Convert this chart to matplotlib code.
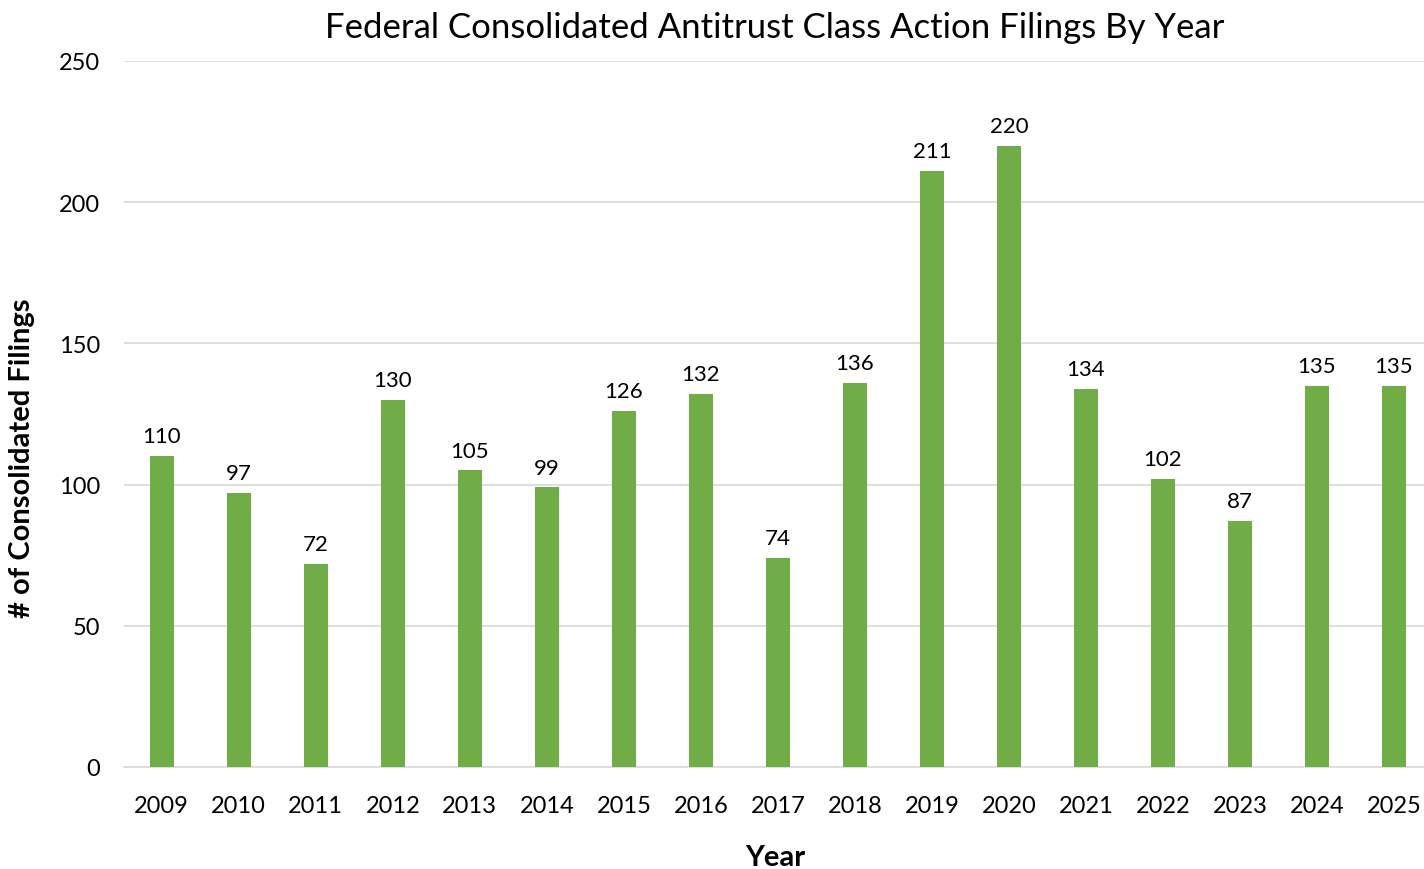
import matplotlib.pyplot as plt
import numpy as np

years = ['2009', '2010', '2011', '2012', '2013', '2014', '2015', '2016', '2017',
         '2018', '2019', '2020', '2021', '2022', '2023', '2024', '2025']
filings = [110, 97, 72, 130, 105, 99, 126, 132, 74, 136, 211, 220, 134, 102, 87, 135, 135]
y_ticks = [0, 50, 100, 150, 200, 250]

plt.rcParams['font.family'] = ['Lato', 'DejaVu Sans']

fig = plt.figure(figsize=(14.24, 8.70), dpi=100)
ax = fig.add_axes([124 / 1424, 1 - 768 / 870, 1 - 124 / 1424, (768 - 62) / 870])

x = np.arange(len(years))
ax.bar(x, filings, width=0.31, color='#70AD47', zorder=3)
for xi, v in zip(x, filings):
    ax.text(xi, v + 3.5, str(v), ha='center', va='bottom', fontsize=16, color='#000000')

ax.set_xlim(-0.49, len(years) - 1 + 0.39)
ax.set_ylim(0, 250)
ax.set_yticks(y_ticks)
ax.set_xticks(x)
ax.set_xticklabels(years)
ax.tick_params(axis='both', length=0, labelsize=17)
ax.tick_params(axis='y', pad=17)
ax.tick_params(axis='x', pad=20)
ax.grid(axis='y', color='#d9d9d9', linewidth=1.2, zorder=0)
for s in ['top', 'right', 'left']:
    ax.spines[s].set_visible(False)
ax.spines['bottom'].set_color('#d9d9d9')
ax.spines['bottom'].set_linewidth(1.2)

fig.text(775 / 1424, 1 - 28 / 870, 'Federal Consolidated Antitrust Class Action Filings By Year',
         ha='center', va='center', fontsize=25)
fig.text(22 / 1424, 1 - 458 / 870, '# of Consolidated Filings', rotation=90,
         ha='center', va='center', fontsize=21, fontweight='bold')
fig.text(775 / 1424, 1 - 858 / 870, 'Year', ha='center', va='center',
         fontsize=21, fontweight='bold')

fig.savefig('out.png', dpi=100)
